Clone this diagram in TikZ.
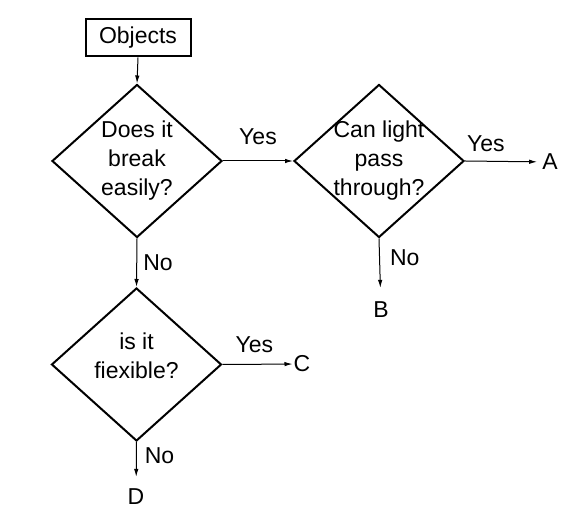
\documentclass[tikz,border=0pt]{standalone}
\usepackage{fontspec}
\setmainfont{Liberation Sans}
\usetikzlibrary{arrows.meta, shapes.geometric}

\begin{document}
\begin{tikzpicture}[
    x=1pt, y=1pt,
    >={Latex[length=8pt, width=4.5pt]},
    every node/.style={font=\fontsize{23}{29}\selectfont},
    decision/.style={diamond, draw, line width=2pt, minimum width=170pt, minimum height=153pt, inner sep=-16pt, align=center},
    startbox/.style={rectangle, draw, line width=2pt, minimum width=105pt, minimum height=37pt},
    flow/.style={->, line width=1pt},
    tag/.style={inner sep=0pt},
]
    \useasboundingbox (0, 0) rectangle (576, 524);

    % Start and questions
    \node[startbox] (start) at (138, 486) {Objects};
    \node[decision] (q1) at (137, 363) {Does it\\break\\easily?};
    \node[decision] (q2) at (379, 363) {Can light\\pass\\through?};
    \node[decision] (q3) at (136.5, 159.5) {is it\\fiexible?\rule[-18pt]{0pt}{18pt}};

    % Outcomes
    \node[tag] (resA) at (550, 362) {A};
    \node[tag] (resB) at (381, 214) {B};
    \node[tag] (resC) at (302, 160) {C};
    \node[tag] (resD) at (136, 27) {D};

    % Connectors
    \draw[flow] (start.south) -- (q1.north);
    \draw[flow] (q1.east) -- node[tag, above=16pt] {Yes} (q2.west);
    \draw[flow] (q1.south) -- node[tag, right=6pt] {No} (q3.north);
    \draw[flow, shorten >=5pt] (q2.east) -- node[tag, above=9pt, pos=0.27] {Yes} (resA);
    \draw[flow, shorten >=14pt] (q2.south) -- node[tag, right=10pt, pos=0.3] {No} (resB);
    \draw[flow, shorten >=1pt] (q3.east) -- node[tag, above=11pt, pos=0.45] {Yes} (resC);
    \draw[flow, shorten >=12pt] (q3.south) -- node[tag, right=8pt, pos=0.3] {No} (resD);
\end{tikzpicture}
\end{document}
